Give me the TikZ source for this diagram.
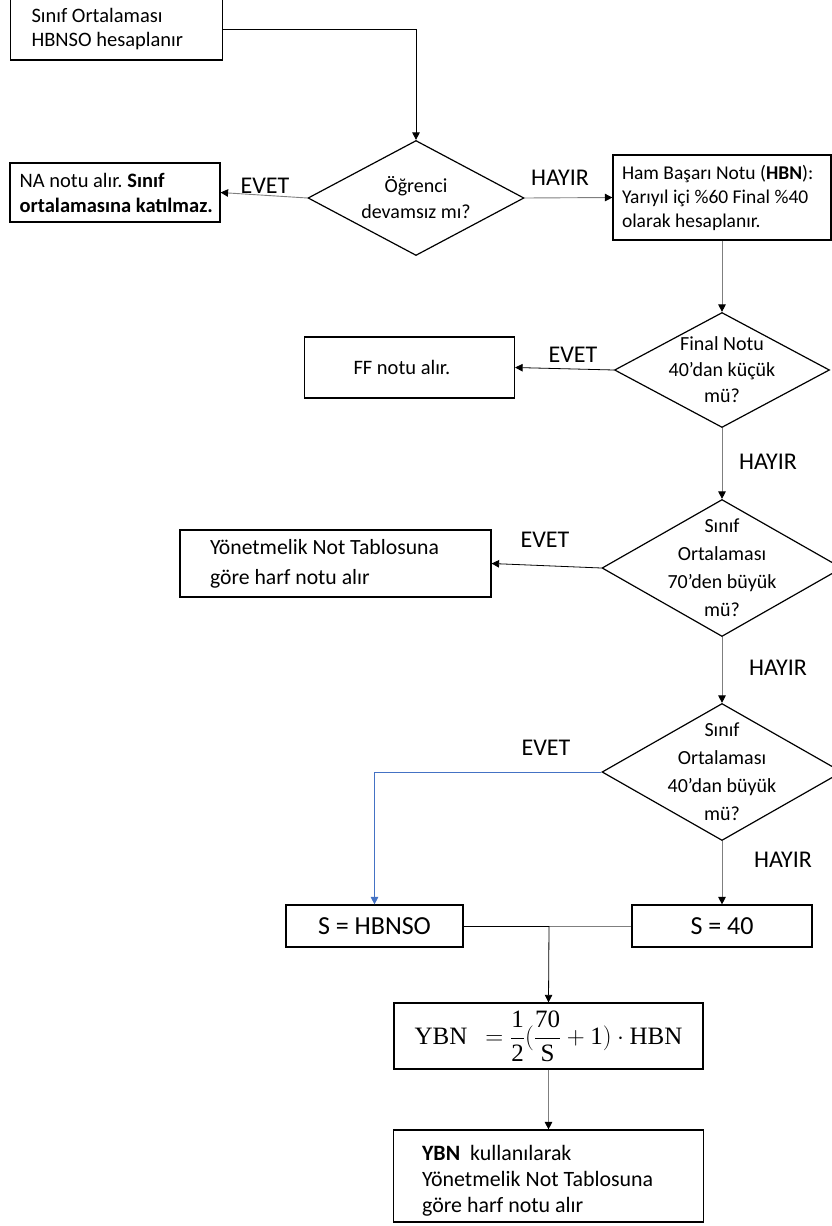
\documentclass[tikz,border=0pt]{standalone}
\usepackage{fontspec}
\setmainfont{Carlito}
\newfontfamily\serifm{Liberation Serif}
\usetikzlibrary{shapes.geometric,arrows.meta}
\definecolor{lnblue}{HTML}{4472C4}
\definecolor{lngray}{HTML}{7F7F7F}
\newcommand{\sm}[1]{\hbox{\serifm #1}}
\frenchspacing
\begin{document}
\begin{tikzpicture}[x=1pt,y=-1pt,
  every node/.style={font=\fontsize{19}{24}\selectfont},
  box/.style={draw, line width=1.2pt, rectangle, inner ysep=0pt, align=flush left},
  cbox/.style={draw, line width=1.2pt, rectangle, inner sep=0pt, align=center},
  diam/.style={draw, line width=1.2pt, diamond, inner sep=0pt},
  dtext/.style={align=center, font=\fontsize{20}{26}\selectfont},
  lab/.style={font=\fontsize{24}{28}\selectfont},
  conn/.style={line width=0.8pt, -{Triangle[length=7.5pt,width=7.5pt]}},
  gconn/.style={line width=0.9pt, draw=lngray, -{Triangle[length=7.5pt,width=7.5pt,fill=black,color=black]}},
  bconn/.style={line width=0.9pt, draw=lnblue, -{Triangle[length=7.5pt,width=7.5pt]}, lnblue}
]
\useasboundingbox (0,0) rectangle (832,1226);

% boxes
\node[box, text width=170pt, inner xsep=21pt, minimum height=62pt, font=\fontsize{20.5}{24}\selectfont] (top) at (116.5,29) {Sınıf Ortalaması\\HBNSO hesaplanır};
\node[cbox, minimum width=210pt, minimum height=59pt] (na) at (115,192.5) {};
\node[anchor=west, align=left, inner sep=0pt, font=\fontsize{20.5}{25}\selectfont] (natext) at ([xshift=10pt]na.west) {NA notu alır. \textbf{Sınıf}\\\textbf{ortalamasına katılmaz.}};
\node[box, text width=200pt, inner xsep=9pt, minimum height=85pt, font=\fontsize{19.5}{24}\selectfont] (hbn) at (722,197.5) {Ham Başarı Notu (\textbf{HBN}):\\Yarıyıl içi \%60 Final \%40\\olarak hesaplanır.};
\node[box, text width=112pt, inner xsep=49pt, minimum height=61pt, font=\fontsize{20.5}{24}\selectfont] (ff) at (409.5,367.5) {FF notu alır.};
\node[box, text width=251pt, inner xsep=30pt, minimum height=67pt, font=\fontsize{21.7}{30}\selectfont] (yon) at (335.5,563.5) {Yönetmelik Not Tablosuna\\göre harf notu alır};
\node[cbox, minimum width=177pt, minimum height=42pt, font=\fontsize{26}{30}\selectfont] (hbnso) at (374.5,926) {S = HBNSO};
\node[cbox, minimum width=180pt, minimum height=42pt, font=\fontsize{26}{30}\selectfont] (s40) at (722,926) {S = 40};
\node[cbox, minimum width=309pt, minimum height=66pt, font=\fontsize{25}{30}\selectfont] (form) at (548.5,1036) {$\displaystyle\sm{YBN}\;\,=\frac{\sm{1}}{\sm{2}}(\frac{\sm{70}}{\sm{S}}+\sm{1})\cdot\sm{HBN}$};
\node[cbox, minimum width=310pt, minimum height=92pt] (fin) at (548.5,1176) {};
\node[anchor=west, align=left, inner sep=0pt, font=\fontsize{21.9}{26}\selectfont] (fintext) at ([xshift=29pt,yshift=-5pt]fin.west) {\textbf{YBN}\ \ kullanılarak\\Yönetmelik Not Tablosuna\\göre harf notu alır};

% diamonds
\node[diam, minimum width=216pt, minimum height=115pt] (d1) at (416,198) {};
\node[dtext] at (d1) {Öğrenci\\devamsız mı?};
\node[diam, minimum width=215pt, minimum height=115pt] (d2) at (722,370) {};
\node[dtext] at (d2) {Final Notu\\40’dan küçük\\mü?};
\node[diam, minimum width=240pt, minimum height=137pt] (d3) at (722,568) {};
\node[dtext, font=\fontsize{20}{28}\selectfont] at (d3) {Sınıf\\Ortalaması\\70’den büyük\\mü?};
\node[diam, minimum width=240pt, minimum height=137pt] (d4) at (722,772) {};
\node[dtext, font=\fontsize{20}{28}\selectfont] at (d4) {Sınıf\\Ortalaması\\40’dan büyük\\mü?};

% labels
\node[lab] (e1) at (265,186) {EVET};
\node[lab] (h1) at (560,178) {HAYIR};
\node[lab] (e2) at (573,355) {EVET};
\node[lab] (h2) at (768,462) {HAYIR};
\node[lab] (e3) at (545,540) {EVET};
\node[lab] (h3) at (778,668) {HAYIR};
\node[lab] (e4) at (546,748) {EVET};
\node[lab] (h4) at (783,860) {HAYIR};

% connectors
\draw[conn] (top.east) -| (d1.north);
\draw[gconn] (d1.west) -- (na.east);
\draw[gconn] (d1.east) -- (hbn.west);
\draw[gconn] (hbn.south) -- (d2.north);
\draw[conn] (d2.west) -- (ff.east);
\draw[gconn] (d2.south) -- (d3.north);
\draw[conn] (d3.west) -- (yon.east);
\draw[gconn] (d3.south) -- (d4.north);
\draw[bconn] (d4.west) -| (hbnso.north);
\draw[gconn] (d4.south) -- (s40.north);
\coordinate (j) at (549,926);
\draw[line width=0.8pt] (hbnso.east) -- (j);
\draw[line width=0.9pt, lngray] (s40.west) -- (j);
\draw[conn] (j) -- (form.north);
\draw[gconn] (form.south) -- (fin.north);
\end{tikzpicture}
\end{document}
